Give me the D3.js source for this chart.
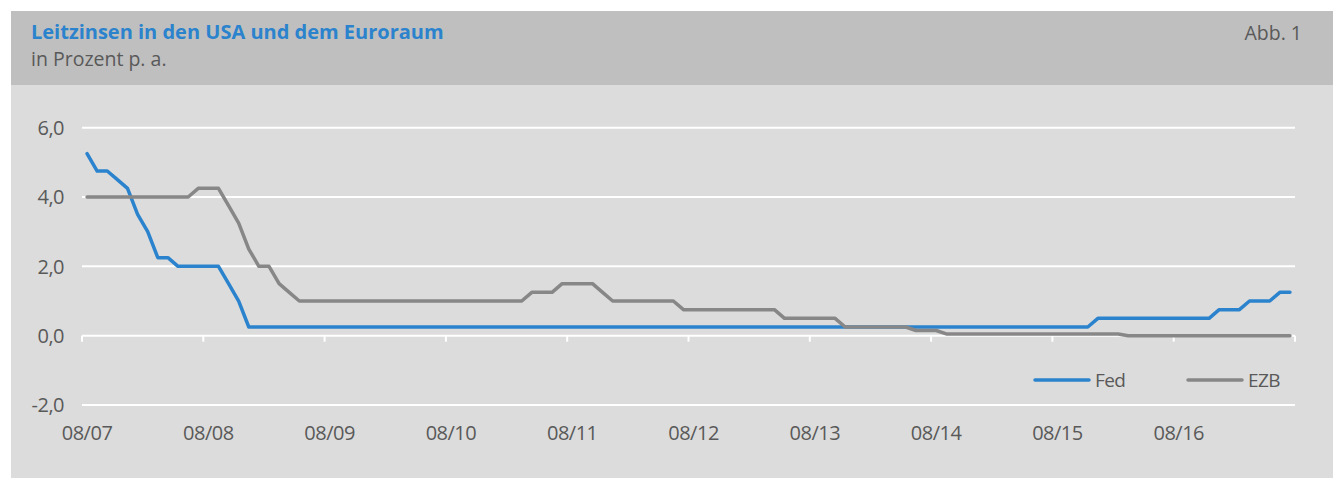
<!DOCTYPE html>
<html>
<head>
<meta charset="utf-8">
<script src="https://cdn.jsdelivr.net/npm/d3@7"></script>
<style>
  body { margin: 0; background: #fff; }
  svg { display: block; font-family: "Open Sans", "Noto Sans", sans-serif; }
</style>
</head>
<body>
<script>
// monthly values, 08/2007 .. 07/2017
var months = d3.range(120).map(function(i) {
  var m = (7 + i) % 12 + 1, y = 7 + Math.floor((7 + i) / 12);
  return d3.format("02")(m) + "/" + d3.format("02")(y);
});

var fed = [5.25, 4.75, 4.75, 4.5, 4.25, 3.5, 3.0, 2.25, 2.25, 2.0,
  2.0, 2.0, 2.0, 2.0, 1.5, 1.0]
  .concat(d3.range(84).map(function() { return 0.25; }))   // 12/08 .. 11/15
  .concat(d3.range(12).map(function() { return 0.5; }))    // 12/15 .. 11/16
  .concat([0.75, 0.75, 0.75, 1.0, 1.0, 1.0, 1.25, 1.25]);

var ezb = [4.0, 4.0, 4.0, 4.0, 4.0, 4.0, 4.0, 4.0, 4.0, 4.0, 4.0,
  4.25, 4.25, 4.25, 3.75, 3.25, 2.5, 2.0, 2.0, 1.5, 1.25]
  .concat(d3.range(23).map(function() { return 1.0; }))    // 05/09 .. 03/11
  .concat([1.25, 1.25, 1.25, 1.5, 1.5, 1.5, 1.5, 1.25])    // 04/11 .. 11/11
  .concat(d3.range(7).map(function() { return 1.0; }))     // 12/11 .. 06/12
  .concat(d3.range(10).map(function() { return 0.75; }))   // 07/12 .. 04/13
  .concat(d3.range(6).map(function() { return 0.5; }))     // 05/13 .. 10/13
  .concat(d3.range(7).map(function() { return 0.25; }))    // 11/13 .. 05/14
  .concat([0.15, 0.15, 0.15])                              // 06/14 .. 08/14
  .concat(d3.range(18).map(function() { return 0.05; }))   // 09/14 .. 02/16
  .concat(d3.range(17).map(function() { return 0.0; }));   // 03/16 .. 07/17

var yTicks = [-2, 0, 2, 4, 6];
var xLabels = months.filter(function(d, i) { return i % 12 == 0; });

var series = [
  {name: "Fed", values: fed, color: "#2b83cd"},
  {name: "EZB", values: ezb, color: "#878787"}
];

var width = 1333, height = 478;
var textColor = "#595959";

var svg = d3.select("body").append("svg")
    .attr("width", width)
    .attr("height", height);

// frame
svg.append("rect").attr("x", 11).attr("y", 11).attr("width", width - 11).attr("height", height - 11)
    .attr("fill", "#dcdcdc");
svg.append("rect").attr("x", 11).attr("y", 11).attr("width", width - 11).attr("height", 74)
    .attr("fill", "#bfbfbf");

svg.append("text").attr("x", 31).attr("y", 38.5)
    .attr("font-size", 20).attr("font-weight", "bold")
    .attr("fill", "#2b83cd")
    .text("Leitzinsen in den USA und dem Euroraum");
svg.append("text").attr("x", 31).attr("y", 65.5)
    .attr("font-size", 19.5)
    .attr("fill", textColor)
    .text("in Prozent p. a.");
svg.append("text").attr("x", 1302).attr("y", 40)
    .attr("font-size", 19.5).attr("text-anchor", "end")
    .attr("fill", textColor)
    .text("Abb. 1");

var x = d3.scaleBand().domain(months).range([82, 1295]);
var y = d3.scaleLinear().domain([-2, 6]).range([405, 127.7]);

function cx(i) { return x(months[i]) + x.bandwidth() / 2; }

// grid lines
svg.append("g").selectAll("line")
    .data(yTicks)
    .enter().append("line")
    .attr("x1", 82).attr("x2", 1295)
    .attr("y1", function(d) { return y(d); })
    .attr("y2", function(d) { return y(d); })
    .attr("stroke", "#fff").attr("stroke-width", 2);

svg.append("g").selectAll("text")
    .data(yTicks)
    .enter().append("text")
    .attr("x", 64)
    .attr("y", function(d) { return y(d); })
    .attr("dy", "0.36em")
    .attr("text-anchor", "end")
    .attr("font-size", 20).attr("letter-spacing", -0.5)
    .attr("fill", textColor)
    .text(function(d) { return d3.format(".1f")(d).replace(".", ",").replace("\u2212", "-"); });

// category ticks on the zero line
var tickPos = d3.range(0, 121, 12).map(function(i) {
  return i < 120 ? x(months[i]) : x.range()[1];
});
svg.append("g").selectAll("line")
    .data(tickPos)
    .enter().append("line")
    .attr("x1", function(d) { return d; })
    .attr("x2", function(d) { return d; })
    .attr("y1", y(0)).attr("y2", y(0) + 6)
    .attr("stroke", "#fff").attr("stroke-width", 2);

svg.append("g").selectAll("text")
    .data(xLabels)
    .enter().append("text")
    .attr("x", function(d) { return x(d) + x.bandwidth() / 2; })
    .attr("y", 440)
    .attr("text-anchor", "middle")
    .attr("font-size", 20).attr("letter-spacing", -0.5)
    .attr("fill", textColor)
    .text(function(d) { return d; });

// lines
var line = d3.line()
    .x(function(d, i) { return cx(i); })
    .y(function(d) { return y(d); });

svg.append("g").selectAll("path")
    .data(series)
    .enter().append("path")
    .attr("d", function(d) { return line(d.values); })
    .attr("fill", "none")
    .attr("stroke", function(d) { return d.color; })
    .attr("stroke-width", 3.5)
    .attr("stroke-linejoin", "round")
    .attr("stroke-linecap", "round");

// legend
var legend = svg.append("g").selectAll("g")
    .data(series)
    .enter().append("g")
    .attr("transform", function(d, i) { return "translate(" + (1035 + i * 153) + ",380)"; });

legend.append("line")
    .attr("x1", 0).attr("x2", 54)
    .attr("stroke", function(d) { return d.color; })
    .attr("stroke-width", 3.5)
    .attr("stroke-linecap", "round");

legend.append("text")
    .attr("x", 60).attr("dy", "0.36em")
    .attr("font-size", 19).attr("letter-spacing", -0.6)
    .attr("fill", textColor)
    .text(function(d) { return d.name; });
</script>
</body>
</html>
